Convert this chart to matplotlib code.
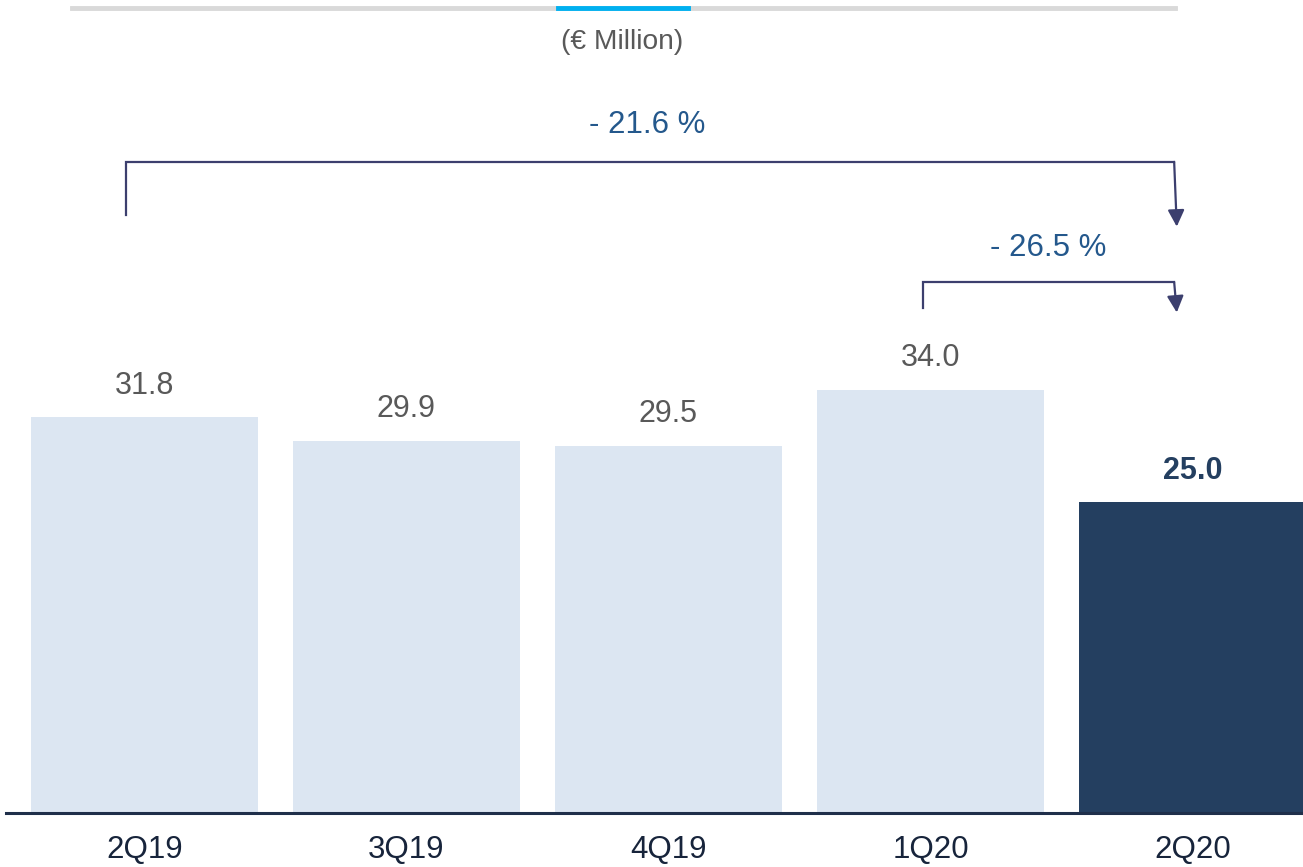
import matplotlib
matplotlib.use("Agg")
import matplotlib.pyplot as plt

categories = ["2Q19", "3Q19", "4Q19", "1Q20", "2Q20"]
values = [31.8, 29.9, 29.5, 34.0, 25.0]
value_labels = ["31.8", "29.9", "29.5", "34.0", "25.0"]
unit_label = "(€ Million)"
changes = [("- 21.6 %", 0, 4), ("- 26.5 %", 3, 4)]

plt.rcParams['font.family'] = ['Liberation Sans', 'DejaVu Sans']

W, H = 1303, 867
fig = plt.figure(figsize=(W / 100, H / 100), dpi=100)
base_px = 813
ax = fig.add_axes([0, (H - base_px) / H, 1, base_px / H])
ax.set_axis_off()

step = 262.0
c0 = 144.5
ax.set_xlim(-c0 / step, (W - c0) / step)
ppu = 12.45
ax.set_ylim(0, base_px / ppu)

light = "#dce6f2"
dark = "#243f60"
colors = [light] * 4 + [dark]
x = list(range(len(categories)))
ax.bar(x, values, width=227 / step, color=colors, zorder=2)

# baseline
ax.axhline(0, xmin=6 / W, xmax=1, color="#1f2f4a", lw=2.2, zorder=3, clip_on=False)

# value labels
for i, (v, t) in enumerate(zip(values, value_labels)):
    last = i == len(values) - 1
    ax.annotate(t, (i, v), xytext=(0, 22.5), textcoords="offset points",
                ha="center", va="center", fontsize=22,
                color=dark if last else "#595959",
                fontweight="bold" if last else "normal")

# category labels
for i, c in enumerate(categories):
    ax.text(i, -37 / ppu, c, ha="center", va="center", fontsize=22.5,
            color="#17243b", clip_on=False)

# top decoration bar
fig.add_artist(plt.Line2D([72 / W, 1175 / W], [1 - 8 / H, 1 - 8 / H],
                          color="#d9d9d9", lw=3.5))
fig.add_artist(plt.Line2D([558 / W, 688 / W], [1 - 8 / H, 1 - 8 / H],
                          color="#00b0f0", lw=3.5))
fig.text(622 / W, 1 - 42 / H, unit_label, ha="center", va="center",
         fontsize=20.3, color="#595959")

arrow_col = "#3c3f6e"
pct_col = "#24588c"
# bracket geometry (data units)
brackets = [
    dict(dl=-0.07, y_left=48.0, y_top=52.3, y_tip=47.1, label_x=1.92, label_y=55.3),
    dict(dl=-0.03, y_left=40.6, y_top=42.65, y_tip=40.2, label_x=3.45, label_y=45.35),
]
for (lab, a, b), g in zip(changes, brackets):
    xl = a + g["dl"]
    xr = b - 0.07
    ax.plot([xl, xl, xr], [g["y_left"], g["y_top"], g["y_top"]],
            color=arrow_col, lw=1.6, solid_joinstyle="miter", zorder=4)
    ax.annotate("", xy=(xr + 0.01, g["y_tip"]), xytext=(xr, g["y_top"]),
                arrowprops=dict(arrowstyle="-|>,head_length=1.0,head_width=0.5",
                                mutation_scale=10, color=arrow_col, lw=1.6,
                                shrinkA=0, shrinkB=0), zorder=4)
    ax.text(g["label_x"], g["label_y"], lab,
            ha="center", va="center", fontsize=22.5, color=pct_col)

fig.savefig("out.png", dpi=100)
